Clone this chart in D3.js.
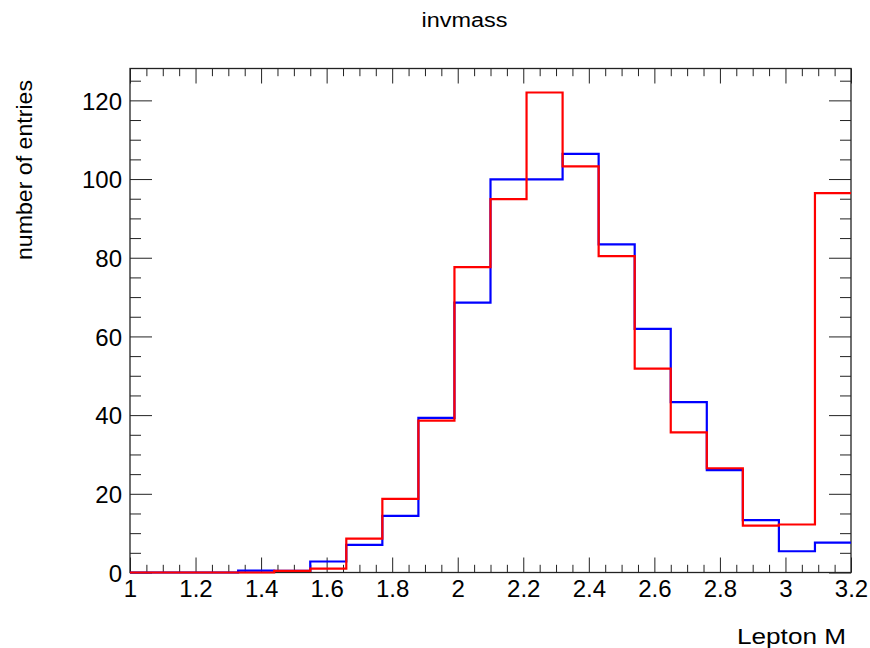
<!DOCTYPE html>
<html>
<head>
<meta charset="utf-8">
<script src="https://cdn.jsdelivr.net/npm/d3@7"></script>
<style>
  html, body { margin: 0; padding: 0; background: #fff; }
  text { font-family: "Liberation Sans", Arial, Helvetica, sans-serif; fill: #000; }
</style>
</head>
<body>
<svg id="chart" width="870" height="648"></svg>
<script>
// ---- data ----
const chartTitle = "invmass";
const xTitle = "Lepton M";
const yTitle = "number of entries";
const binLowEdges = [1.00, 1.11, 1.22, 1.33, 1.44, 1.55, 1.66, 1.77, 1.88, 1.99,
                     2.10, 2.21, 2.32, 2.43, 2.54, 2.65, 2.76, 2.87, 2.98, 3.09];
const xMax = 3.2;
const blueValues = [0, 0, 0, 0.5, 0.4, 2.8, 7.0, 14.4, 39.3, 68.6,
                    99.9, 99.9, 106.4, 83.4, 61.9, 43.3, 26.0, 13.3, 5.4, 7.6];
const redValues  = [0, 0, 0, 0, 0.4, 1.0, 8.6, 18.7, 38.6, 77.6,
                    94.9, 122.0, 103.2, 80.4, 51.8, 35.6, 26.5, 11.9, 12.2, 96.4];
const xTickLabels = ["1", "1.2", "1.4", "1.6", "1.8", "2", "2.2", "2.4", "2.6", "2.8", "3", "3.2"];
const yTickLabels = ["0", "20", "40", "60", "80", "100", "120"];

// ---- layout ----
const L = 130, R = 851, T = 68.5, B = 572.5;
const svg = d3.select("#chart");
const x = d3.scaleLinear().domain([1, xMax]).range([L, R]);
const yMaxVal = d3.max(redValues.concat(blueValues)) * 1.05;
const y = d3.scaleLinear().domain([0, yMaxVal]).range([B, T]);

const xMajor = xTickLabels.map(Number);
const xMinor = d3.range(1, xMax + 1e-9, 0.05).filter(v => !xMajor.some(m => Math.abs(m - v) < 1e-6));
const yMajor = yTickLabels.map(Number);
const yMinor = d3.range(0, yMaxVal, 5).filter(v => v % 20 !== 0);

const tickColor = "#222";

// bottom axis (ticks inward)
const xAxisB = d3.axisBottom(x).tickValues(xMajor).tickFormat((d, i) => xTickLabels[i]).tickSize(-15).tickPadding(22);
const gB = svg.append("g").attr("transform", `translate(0,${B})`).call(xAxisB);
const xAxisBm = d3.axisBottom(x).tickValues(xMinor).tickFormat("").tickSize(-7.7);
const gBm = svg.append("g").attr("transform", `translate(0,${B})`).call(xAxisBm);
// top axis
const gT = svg.append("g").attr("transform", `translate(0,${T})`).call(d3.axisTop(x).tickValues(xMajor).tickFormat("").tickSize(-15));
const gTm = svg.append("g").attr("transform", `translate(0,${T})`).call(d3.axisTop(x).tickValues(xMinor).tickFormat("").tickSize(-7.7));
// left axis
const gL = svg.append("g").attr("transform", `translate(${L},0)`).call(d3.axisLeft(y).tickValues(yMajor).tickFormat((d, i) => yTickLabels[i]).tickSize(-22).tickPadding(30));
const gLm = svg.append("g").attr("transform", `translate(${L},0)`).call(d3.axisLeft(y).tickValues(yMinor).tickFormat("").tickSize(-11));
// right axis
const gR = svg.append("g").attr("transform", `translate(${R},0)`).call(d3.axisRight(y).tickValues(yMajor).tickFormat("").tickSize(-22));
const gRm = svg.append("g").attr("transform", `translate(${R},0)`).call(d3.axisRight(y).tickValues(yMinor).tickFormat("").tickSize(-11));

[gB, gBm, gT, gTm, gL, gLm, gR, gRm].forEach(g => {
  g.select(".domain").remove();
  g.selectAll(".tick line").attr("stroke", tickColor).attr("stroke-width", 1);
});
gB.selectAll(".tick text").attr("font-size", 24).attr("dy", "0.71em").attr("y", 7);
gL.selectAll(".tick text").attr("font-size", 24).attr("x", -8).attr("dy", "0.36em");

// frame
svg.append("rect").attr("x", L).attr("y", T).attr("width", R - L).attr("height", B - T)
  .attr("fill", "none").attr("stroke", "#222").attr("stroke-width", 1.3);

// histograms
function stepPoints(vals) {
  const pts = vals.map((v, i) => [binLowEdges[i], v]);
  pts.push([xMax, vals[vals.length - 1]]);
  return pts;
}
const line = d3.line().x(d => x(d[0])).y(d => y(d[1])).curve(d3.curveStepAfter);
svg.append("path").attr("d", line(stepPoints(blueValues)))
  .attr("fill", "none").attr("stroke", "#0000ff").attr("stroke-width", 2.2);
svg.append("path").attr("d", line(stepPoints(redValues)))
  .attr("fill", "none").attr("stroke", "#ff0000").attr("stroke-width", 2.2);

// titles
svg.append("text").attr("x", 464.5).attr("y", 27).attr("text-anchor", "middle")
  .attr("font-size", 20).attr("textLength", 86).attr("lengthAdjust", "spacingAndGlyphs").text(chartTitle);
svg.append("text").attr("x", 846).attr("y", 643.5).attr("text-anchor", "end")
  .attr("font-size", 22).attr("textLength", 109).attr("lengthAdjust", "spacingAndGlyphs").text(xTitle);
svg.append("text").attr("transform", "translate(32,170) rotate(-90)").attr("text-anchor", "middle")
  .attr("font-size", 22).attr("textLength", 180).attr("lengthAdjust", "spacingAndGlyphs").text(yTitle);
</script>
</body>
</html>
